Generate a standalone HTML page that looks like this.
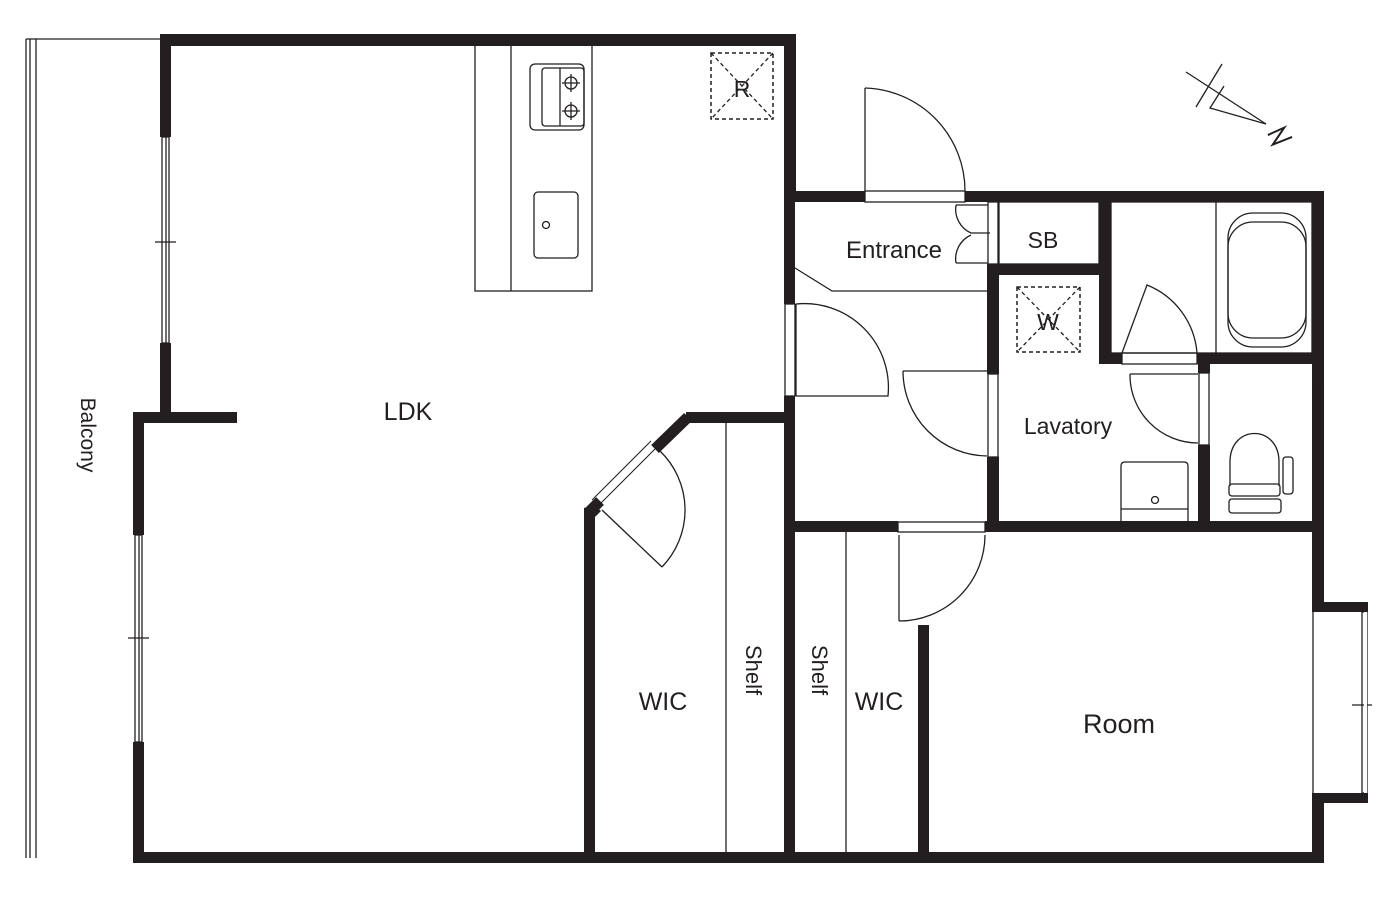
<!DOCTYPE html>
<html><head><style>html,body{margin:0;padding:0;background:#fff}svg{display:block}</style></head>
<body>
<svg width="1392" height="904" viewBox="0 0 1392 904" xmlns="http://www.w3.org/2000/svg" font-family="Liberation Sans, sans-serif">
<rect width="1392" height="904" fill="#fff"/>
<g stroke="#231f20" stroke-width="1.3" fill="none">
<line x1="26" y1="39" x2="26" y2="858"/>
<line x1="30" y1="39" x2="30" y2="858"/>
<line x1="36" y1="39" x2="36" y2="858"/>
<line x1="26" y1="39" x2="160" y2="39"/>
</g>
<text transform="translate(81,435) rotate(90)" font-size="21" text-anchor="middle" fill="#231f20">Balcony</text>
<g fill="#231f20">
<rect x="160" y="34" width="636" height="12"/>
<rect x="160" y="34" width="11" height="103"/>
<rect x="160" y="343" width="11" height="80"/>
<rect x="133" y="412" width="104" height="11"/>
<rect x="133" y="412" width="11" height="123"/>
<rect x="133" y="742" width="11" height="121"/>
<rect x="133" y="852" width="1191" height="11"/>
<rect x="784" y="34" width="12" height="164"/>
<rect x="784" y="191" width="81" height="11"/>
<rect x="965" y="191" width="359" height="11"/>
<rect x="1312" y="191" width="12" height="416"/>
<rect x="1312" y="602" width="56" height="10"/>
<rect x="1312" y="793" width="56" height="10"/>
<rect x="1312" y="793" width="12" height="70"/>
<rect x="784" y="191" width="11" height="113"/>
<rect x="784" y="396" width="11" height="467"/>
<rect x="584" y="508" width="11" height="355"/>
<rect x="686" y="412" width="105" height="11"/>
<rect x="987" y="191" width="12" height="11"/>
<rect x="987" y="264" width="12" height="110"/>
<rect x="987" y="457" width="12" height="75"/>
<rect x="784" y="521" width="114" height="11"/>
<rect x="985" y="521" width="339" height="11"/>
<rect x="987" y="264" width="118" height="11"/>
<rect x="1099" y="191" width="12" height="173"/>
<rect x="1099" y="353" width="23" height="11"/>
<rect x="1197" y="353" width="127" height="11"/>
<rect x="1198" y="353" width="12" height="20"/>
<rect x="1198" y="445" width="12" height="87"/>
<rect x="918" y="625" width="11" height="238"/>
</g>
<polygon points="584,508 584,515 594,518 601,511 594,505" fill="#231f20"/>
<line x1="655" y1="449" x2="688" y2="417" stroke="#231f20" stroke-width="11"/>
<line x1="589" y1="512" x2="600" y2="501" stroke="#231f20" stroke-width="11"/>
<line x1="598" y1="506" x2="657" y2="447" stroke="#231f20" stroke-width="1"/>
<line x1="592" y1="500" x2="651" y2="441" stroke="#231f20" stroke-width="1"/>
<g stroke="#231f20" stroke-width="1.3" fill="none">
<rect x="162" y="137" width="7" height="206"/><line x1="166" y1="137" x2="166" y2="343"/>
<line x1="155" y1="242" x2="176" y2="242"/>
<rect x="135" y="535" width="7" height="207"/><line x1="139" y1="535" x2="139" y2="742"/>
<line x1="128" y1="638" x2="149" y2="638"/>
<rect x="1362" y="612" width="5" height="181"/><line x1="1313" y1="612" x2="1313" y2="793"/>
<line x1="1352" y1="705" x2="1372" y2="705"/>
<line x1="1316" y1="382" x2="1316" y2="442"/><line x1="1320" y1="382" x2="1320" y2="442"/>
<rect x="475" y="45" width="117" height="246"/>
<line x1="511" y1="45" x2="511" y2="291"/>
<rect x="530" y="64" width="54" height="66" rx="5"/>
<rect x="542" y="68" width="42" height="58" rx="3"/><line x1="560" y1="68" x2="560" y2="126"/>
<circle cx="571" cy="83" r="6"/><circle cx="571" cy="111" r="6"/>
<line x1="571" y1="74" x2="571" y2="92"/><line x1="562" y1="83" x2="580" y2="83"/>
<line x1="571" y1="102" x2="571" y2="120"/><line x1="562" y1="111" x2="580" y2="111"/>
<rect x="534" y="192" width="44" height="66" rx="4"/>
<circle cx="546" cy="225" r="3.5"/>
<rect x="711" y="53" width="62" height="66" stroke-dasharray="4,3" stroke-width="1.5"/>
<line x1="711" y1="53" x2="773" y2="119" stroke-dasharray="4,3"/>
<line x1="773" y1="53" x2="711" y2="119" stroke-dasharray="4,3"/>
<rect x="1017" y="287" width="63" height="65" stroke-dasharray="4,3" stroke-width="1.5"/>
<line x1="1017" y1="287" x2="1080" y2="352" stroke-dasharray="4,3"/>
<line x1="1080" y1="287" x2="1017" y2="352" stroke-dasharray="4,3"/>
<rect x="865" y="191" width="100" height="11"/>
<line x1="865" y1="88" x2="865" y2="191"/>
<path d="M865,88 A103,103 0 0 1 965,191"/>
<rect x="988" y="202" width="10" height="62"/>
<path d="M956,205 A26,26 0 0 0 971,233 L990,233"/>
<path d="M956,263 A26,26 0 0 1 971,235"/>
<line x1="956" y1="205" x2="988" y2="205"/><line x1="956" y1="263" x2="988" y2="263"/>
<rect x="999" y="202" width="100" height="62"/>
<polyline points="795,268 832,291 987,291"/>
<rect x="785" y="304" width="10" height="92"/>
<line x1="796" y1="304" x2="796" y2="396"/>
<path d="M796,304 A84,84 0 0 1 888,396 L796,396"/>
<rect x="988" y="374" width="10" height="83"/>
<line x1="903" y1="371" x2="987" y2="371"/>
<path d="M903,371 A85,85 0 0 0 987,456"/>
<rect x="1111" y="202" width="201" height="151"/>
<line x1="1216" y1="202" x2="1216" y2="353"/>
<rect x="1228" y="213" width="78" height="134" rx="25"/>
<rect x="1228" y="222" width="78" height="116" rx="25"/>
<rect x="1122" y="353" width="75" height="11"/>
<path d="M1122,353 L1147,285 A80,80 0 0 1 1197,353"/>
<rect x="1199" y="373" width="10" height="72"/>
<line x1="1130" y1="374" x2="1198" y2="374"/>
<path d="M1130,374 A68,68 0 0 0 1198,443"/>
<path d="M1230,486 L1230,462 C1230,424 1279,424 1279,462 L1279,486"/>
<rect x="1229" y="484" width="51" height="12" rx="3"/>
<rect x="1229" y="499" width="52" height="14" rx="3"/>
<rect x="1283" y="457" width="10" height="37" rx="3"/>
<path d="M1121,521 L1121,466 Q1121,462 1125,462 L1184,462 Q1188,462 1188,466 L1188,521"/>
<line x1="1121" y1="509" x2="1188" y2="509"/>
<circle cx="1155" cy="500" r="3.5"/>
<rect x="898" y="522" width="87" height="10"/>
<line x1="899" y1="535" x2="899" y2="621"/>
<path d="M899,621 A86,86 0 0 0 985,535"/>
<line x1="602" y1="510" x2="662" y2="567"/>
<path d="M662,567 A82,82 0 0 0 660,451"/>
<line x1="726" y1="423" x2="726" y2="852"/>
<line x1="846" y1="532" x2="846" y2="852"/>
<line x1="1186" y1="72" x2="1266" y2="124"/>
<line x1="1196" y1="107" x2="1222" y2="64"/>
<polyline points="1224,86 1210,108 1266,124"/>
</g>
<rect x="1364" y="612" width="3" height="181" fill="#fff"/>
<polyline points="1268,134 1285,128 1272,144 1292,138" transform="rotate(-5 1280 136)" fill="none" stroke="#231f20" stroke-width="2"/>
<g fill="#231f20" font-size="25">
<text x="408" y="420" text-anchor="middle">LDK</text>
<text x="894" y="258" text-anchor="middle" font-size="24">Entrance</text>
<text x="1043" y="248" text-anchor="middle" font-size="23">SB</text>
<text x="742" y="97" text-anchor="middle" font-size="23">R</text>
<text x="1048" y="330" text-anchor="middle" font-size="23">W</text>
<text x="1068" y="434" text-anchor="middle" font-size="23">Lavatory</text>
<text x="663" y="710" text-anchor="middle">WIC</text>
<text x="879" y="710" text-anchor="middle">WIC</text>
<text x="1119" y="733" text-anchor="middle" font-size="27">Room</text>
<text transform="translate(746,670) rotate(90)" text-anchor="middle" font-size="22">Shelf</text>
<text transform="translate(812,670) rotate(90)" text-anchor="middle" font-size="22">Shelf</text>
</g>
</svg>
</body></html>
